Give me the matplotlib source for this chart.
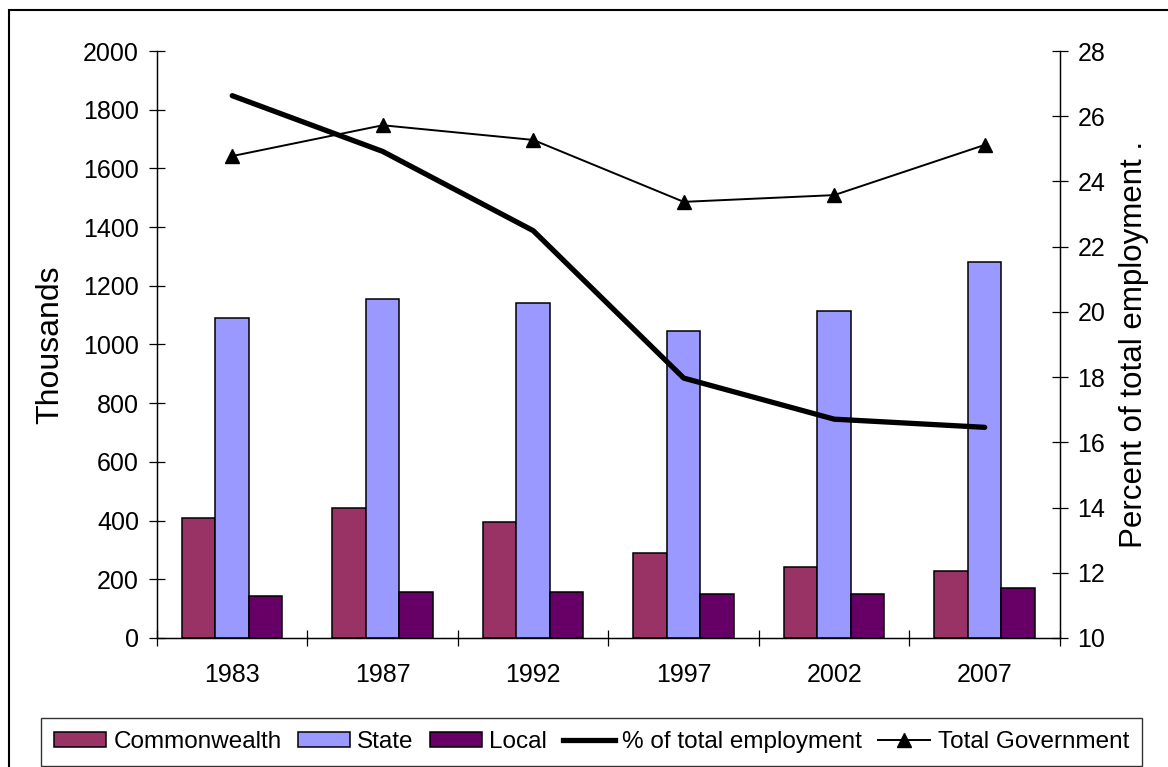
import matplotlib.pyplot as plt
import numpy as np
from matplotlib.lines import Line2D
from matplotlib.patches import Patch, Rectangle

plt.rcParams["font.family"] = ["Liberation Sans", "DejaVu Sans"]

# values (thousands / percent)
years = ["1983", "1987", "1992", "1997", "2002", "2007"]
commonwealth = [408, 442, 394, 290, 242, 229]
state = [1089, 1155, 1140, 1047, 1114, 1280]
local = [143, 158, 158, 150, 150, 169]
total_government = [1642, 1747, 1697, 1486, 1509, 1680]
pct_total_employment = [26.63, 24.92, 22.49, 17.97, 16.71, 16.46]

left_ticks = list(range(0, 2001, 200))
right_ticks = list(range(10, 29, 2))

COLOR_COMMONWEALTH = "#993366"
COLOR_STATE = "#9999FF"
COLOR_LOCAL = "#660066"

fig = plt.figure(figsize=(11.68, 7.67), dpi=100)
ax = fig.add_axes([0.1344, 0.1682, 0.7731, 0.7653])
ax2 = ax.twinx()

x = np.arange(len(years))
width = 0.2226

ax.bar(x - width, commonwealth, width, color=COLOR_COMMONWEALTH,
       edgecolor="black", linewidth=1.1)
ax.bar(x, state, width, color=COLOR_STATE, edgecolor="black", linewidth=1.1)
ax.bar(x + width, local, width, color=COLOR_LOCAL, edgecolor="black", linewidth=1.1)
ax.plot(x, total_government, color="black", linewidth=1.4, marker="^",
        markersize=10, zorder=4)

ax2.plot(x, pct_total_employment, color="black", linewidth=3.8,
         solid_capstyle="round", zorder=5)

# axes
ax.set_xlim(-0.5, 5.5)
ax.set_ylim(0, 2000)
ax.set_yticks(left_ticks)
ax2.set_ylim(10, 28)
ax2.set_yticks(right_ticks)

for a in (ax, ax2):
    a.spines["top"].set_visible(False)
    for side in ("left", "right", "bottom"):
        a.spines[side].set_linewidth(0.9)

ax.set_xticks(x)
ax.set_xticklabels(years)
ax.set_xticks(np.arange(-0.5, 6.0, 1.0), minor=True)
ax.tick_params(axis="x", which="major", length=0, pad=18, labelsize=18)
ax.tick_params(axis="x", which="minor", direction="inout", length=12, width=0.9)
ax.tick_params(axis="y", direction="inout", length=12, width=0.9, pad=7,
               labelsize=18)
ax2.tick_params(axis="y", direction="inout", length=12, width=0.9, pad=6.5,
                labelsize=18)

ax.set_ylabel("Thousands", fontsize=23, labelpad=13)
ax2.set_ylabel("Percent of total employment .", fontsize=22.5, labelpad=10)

# legend below the plot
handles = [
    Patch(facecolor=COLOR_COMMONWEALTH, edgecolor="black", linewidth=1.1),
    Patch(facecolor=COLOR_STATE, edgecolor="black", linewidth=1.1),
    Patch(facecolor=COLOR_LOCAL, edgecolor="black", linewidth=1.1),
    Line2D([], [], color="black", linewidth=3.8),
    Line2D([], [], color="black", linewidth=1.4, marker="^", markersize=10),
]
labels = ["Commonwealth", "State", "Local", "% of total employment",
          "Total Government"]
leg = fig.legend(handles, labels, loc="center", bbox_to_anchor=(0.5064, 0.0326),
                 ncol=5, fontsize=17.5, frameon=True, fancybox=False,
                 edgecolor="black", handlelength=2.15, handleheight=0.6,
                 handletextpad=0.3, columnspacing=0.65, borderpad=0.55,
                 borderaxespad=0)
leg.get_frame().set_linewidth(1.0)

# outer chart border
fig.patches.append(Rectangle((9 / 1168, -0.05), 1.1, 1 - 10 / 767 + 0.05,
                             transform=fig.transFigure, fill=False,
                             linewidth=1.5, edgecolor="black"))

fig.savefig("out.png", dpi=100)
